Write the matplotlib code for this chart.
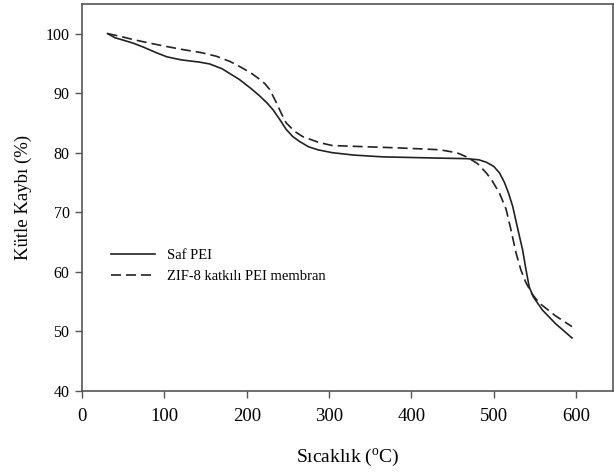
import matplotlib
matplotlib.use('Agg')
import matplotlib.pyplot as plt

plt.rcParams['font.family'] = ['Liberation Serif', 'DejaVu Serif']
plt.rcParams['mathtext.fontset'] = 'custom'
plt.rcParams['mathtext.rm'] = 'Liberation Serif'

# Saf PEI
saf_t = [31, 40, 50, 62, 75, 90, 103, 120, 143, 155, 170, 191, 205, 216, 225, 232, 240,
         248, 256, 264, 275, 286, 304, 330, 365, 430, 467, 482, 491, 500, 507, 513, 518,
         523, 529, 535, 539, 543, 548, 559, 575, 595]
saf_w = [100.0, 99.3, 98.9, 98.4, 97.7, 96.8, 96.1, 95.6, 95.2, 94.9, 94.1, 92.3, 90.8,
         89.5, 88.3, 87.2, 85.6, 83.9, 82.7, 81.9, 81.0, 80.5, 80.0, 79.6, 79.3, 79.1, 79.0,
         78.8, 78.4, 77.7, 76.6, 75.0, 73.2, 71.0, 67.3, 63.7, 60.5, 57.5, 55.8, 53.6, 51.3, 48.9]

# ZIF-8 katkili PEI membran
zif_t = [31, 46, 62, 82, 100, 123, 145, 163, 180, 191, 205, 215, 222, 228, 236, 242, 248,
         258, 268, 288, 304, 385, 434, 455, 467, 480, 491, 498, 507, 515, 521, 527, 533,
         539, 547, 555, 575, 595]
zif_w = [100.0, 99.55, 99.0, 98.4, 97.9, 97.3, 96.8, 96.2, 95.3, 94.5, 93.4, 92.4, 91.6,
         90.6, 88.4, 86.6, 85.0, 83.6, 82.7, 81.7, 81.2, 80.8, 80.5, 80.0, 79.3, 78.2, 76.6,
         75.3, 73.2, 70.5, 67.0, 63.2, 60.3, 58.2, 56.2, 54.8, 52.6, 50.8]

fig = plt.figure(figsize=(6.14, 4.75), dpi=100)
ax = fig.add_axes([0.1336, 0.177, 0.865, 0.815])

ax.plot(saf_t, saf_w, color='#222222', lw=1.2, ls='-', label='Saf PEI')
ax.plot(zif_t, zif_w, color='#222222', lw=1.2, ls=(0, (6, 3)), label='ZIF-8 katkılı PEI membran')

ax.set_xlim(0, 645)
ax.set_ylim(40, 105)
ax.set_xticks([0, 100, 200, 300, 400, 500, 600])
ax.set_yticks([40, 50, 60, 70, 80, 90, 100])
ax.tick_params(direction='out', length=5, width=1, color='#555555')
ax.tick_params(axis='x', labelsize=13.5, pad=7)
ax.tick_params(axis='y', labelsize=11.5, pad=4)
for s in ax.spines.values():
    s.set_color('#555555')
    s.set_linewidth(1.2)

ax.set_xlabel('Sıcaklık ($^{\\mathrm{o}}$C)', fontsize=14, labelpad=16)
ax.set_ylabel('Kütle Kaybı (%)', fontsize=13.5, labelpad=10)

ax.legend(loc='upper left', bbox_to_anchor=(0.03, 0.40), frameon=False, fontsize=10.5,
          handlelength=3.0, handletextpad=0.8, labelspacing=0.5)

fig.savefig('out.png', dpi=100)
